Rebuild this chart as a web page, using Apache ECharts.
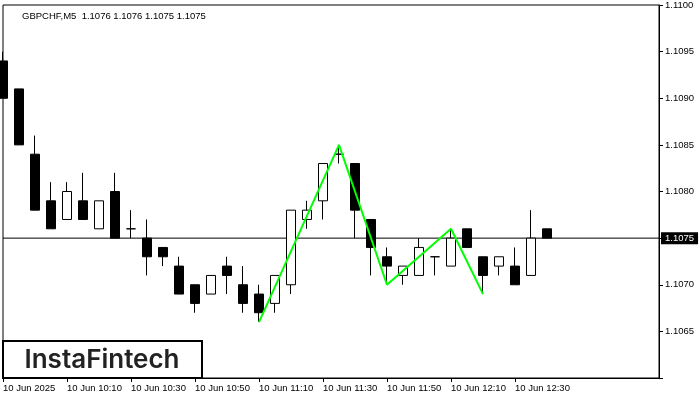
<!DOCTYPE html>
<html>
<head>
<meta charset="utf-8">
<script src="https://cdn.jsdelivr.net/npm/echarts@6/dist/echarts.min.js"></script>
<style>html,body{margin:0;padding:0;background:#fff}#c{width:700px;height:400px}</style>
</head>
<body>
<div id="c"></div>
<script>
// ---- data (GBPCHF, M5) ----
const times = ["09:50","09:55","10:00","10:05","10:10","10:15","10:20","10:25","10:30","10:35",
  "10:40","10:45","10:50","10:55","11:00","11:05","11:10","11:15","11:20","11:25",
  "11:30","11:35","11:40","11:45","11:50","11:55","12:00","12:05","12:10","12:15",
  "12:20","12:25","12:30","12:35","12:40"];
const opens  = [1.1094,1.1091,1.1084,1.1079,1.1077,1.1079,1.1076,1.1080,1.1076,1.1075,
  1.1074,1.1072,1.1070,1.1069,1.1072,1.1070,1.1069,1.1068,1.1070,1.1077,
  1.1079,1.1084,1.1083,1.1077,1.1073,1.1071,1.1071,1.1073,1.1072,1.1076,
  1.1073,1.1072,1.1072,1.1071,1.1076];
const closes = [1.1090,1.1085,1.1078,1.1076,1.1080,1.1077,1.1079,1.1075,1.1076,1.1073,
  1.1073,1.1069,1.1068,1.1071,1.1071,1.1068,1.1067,1.1071,1.1078,1.1078,
  1.1083,1.1084,1.1078,1.1074,1.1072,1.1072,1.1074,1.1073,1.1075,1.1074,
  1.1071,1.1073,1.1070,1.1075,1.1075];
const lows   = [1.1090,1.1085,1.1078,1.1076,1.1077,1.1077,1.1076,1.1075,1.1075,1.1071,
  1.1072,1.1069,1.1067,1.1069,1.1069,1.1067,1.1066,1.1067,1.1069,1.1076,
  1.1077,1.1083,1.1075,1.1071,1.1070,1.1070,1.1071,1.1071,1.1072,1.1074,
  1.1069,1.1071,1.1070,1.1071,1.1075];
const highs  = [1.1095,1.1091,1.1086,1.1081,1.1081,1.1082,1.1079,1.1082,1.1078,1.1077,
  1.1074,1.1073,1.1070,1.1071,1.1073,1.1072,1.1070,1.1071,1.1078,1.1079,
  1.1083,1.1085,1.1083,1.1077,1.1074,1.1072,1.1075,1.1073,1.1076,1.1076,
  1.1073,1.1073,1.1074,1.1078,1.1076];
const patternIdx = [16, 21, 24, 28, 30];
const patternVal = [1.1066, 1.1085, 1.1070, 1.1076, 1.1069];
const xTickLabels = ["10 Jun 2025","10 Jun 10:10","10 Jun 10:30","10 Jun 10:50","10 Jun 11:10",
  "10 Jun 11:30","10 Jun 11:50","10 Jun 12:10","10 Jun 12:30"];
const lastPrice = 1.1075;
const titleText = "GBPCHF,M5  1.1076 1.1076 1.1075 1.1075";
const logoText = "InstaFintech";

// ---- build ----
const PAD = 7; // empty slots to the right of the last bar
const categories = times.concat(new Array(PAD).fill(""));
const candles = times.map((t, i) => [opens[i], closes[i], lows[i], highs[i]]);
const pattern = patternIdx.map((ix, k) => [ix, patternVal[k]]);
const priceLine = [[0, lastPrice], [categories.length - 1, lastPrice]];
const showTick = (i) => i % 4 === 0 && i / 4 < xTickLabels.length;
const FONT = "'Liberation Sans', Arial, sans-serif";

const chart = echarts.init(document.getElementById('c'), null, {renderer: 'canvas'});
chart.setOption({
  backgroundColor: '#fff',
  animation: false,
  title: {
    text: titleText, left: 17, top: 6,
    textStyle: {fontSize: 9.5, fontWeight: 'normal', color: '#000', fontFamily: FONT}
  },
  grid: {left: 3, right: 41, top: 3, bottom: 22, show: true, borderColor: '#000', borderWidth: 1, backgroundColor: '#fff'},
  xAxis: {
    type: 'category', data: categories, boundaryGap: false,
    axisLine: {show: true, lineStyle: {color: '#000', width: 1}},
    axisTick: {show: true, interval: (i) => showTick(i), length: 4, lineStyle: {color: '#000'}},
    axisLabel: {
      show: true, interval: (i) => showTick(i), align: 'left', margin: 5,
      color: '#000', fontSize: 9.5, fontFamily: FONT,
      formatter: (v, i) => xTickLabels[i / 4] || ''
    },
    splitLine: {show: false}
  },
  yAxis: {
    type: 'value', position: 'right', min: 1.1060, max: 1.1100, interval: 0.0005,
    axisLine: {show: true, lineStyle: {color: '#000', width: 1}},
    axisTick: {show: true, length: 4, lineStyle: {color: '#000'}},
    axisLabel: {
      color: '#000', fontSize: 9.5, fontFamily: FONT, margin: 6, showMaxLabel: true,
      formatter: (v) => (Math.abs(v - 1.1060) < 1e-7 || Math.abs(v - lastPrice) < 1e-7) ? '' : v.toFixed(4)
    },
    splitLine: {show: false}
  },
  series: [
    {
      type: 'line', data: priceLine, symbol: 'none', z: 1, silent: true,
      lineStyle: {color: '#000', width: 1},
      endLabel: {
        show: true, distance: 2, formatter: () => lastPrice.toFixed(4),
        backgroundColor: '#000', color: '#fff', padding: [1, 4, 1, 4],
        fontSize: 9.5, fontFamily: FONT
      }
    },
    {
      type: 'candlestick', data: candles, barWidth: 10, clip: false, z: 2,
      itemStyle: {color: '#fff', color0: '#000', borderColor: '#000', borderColor0: '#000', borderWidth: 1}
    },
    {
      type: 'line', data: pattern, symbol: 'none', z: 5,
      lineStyle: {color: '#00ff00', width: 2}
    }
  ],
  graphic: [
    {
      type: 'rect', z: 100, shape: {x: 3, y: 341, width: 199, height: 37},
      style: {fill: '#fff', stroke: '#000', lineWidth: 2}
    },
    {
      type: 'text', z: 101, x: 102, y: 360,
      style: {text: logoText, fill: '#222', font: "600 26px Inter, 'Noto Sans', sans-serif",
        textAlign: 'center', textVerticalAlign: 'middle'}
    }
  ]
});
</script>
</body>
</html>
